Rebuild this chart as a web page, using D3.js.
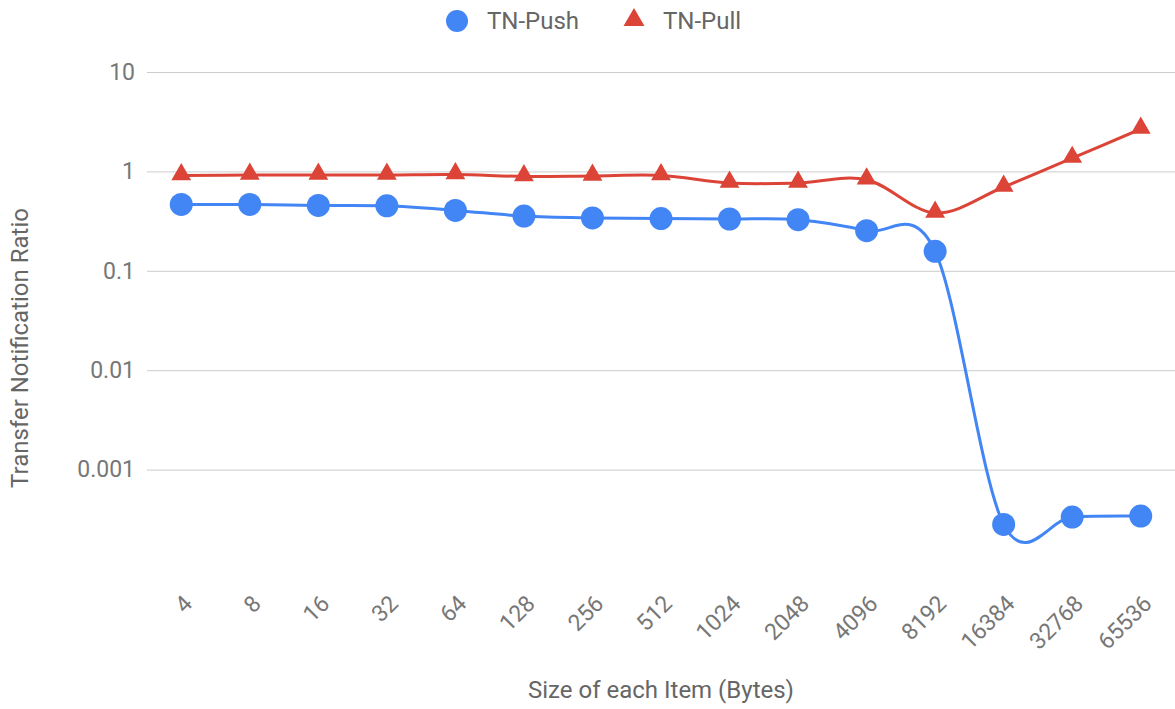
<!DOCTYPE html>
<html>
<head>
<meta charset="utf-8">
<script src="https://cdn.jsdelivr.net/npm/d3@7"></script>
<style>
  html, body { margin: 0; padding: 0; background: #fff; }
  svg { display: block; font-family: Roboto, "Noto Sans", sans-serif; }
</style>
</head>
<body>
<svg id="chart" width="1175" height="709"></svg>
<script>
// Item sizes (bytes) along the x axis
const sizes = ["4", "8", "16", "32", "64", "128", "256", "512", "1024", "2048", "4096", "8192", "16384", "32768", "65536"];
// Transfer notification ratio per item size
const pushValues = [0.465, 0.465, 0.455, 0.45, 0.405, 0.355, 0.34, 0.335, 0.332, 0.327, 0.253, 0.157, 0.000281, 0.000333, 0.000341];
const pullValues = [0.91, 0.92, 0.92, 0.92, 0.93, 0.89, 0.90, 0.91, 0.764, 0.764, 0.825, 0.382, 0.697, 1.36, 2.67];
const yTicks = [10, 1, 0.1, 0.01, 0.001];
const seriesNames = ["TN-Push", "TN-Pull"];

const blue = "#4285F4", red = "#DB4437";
const tickColor = "#777", titleColor = "#666";

const svg = d3.select("#chart");
const plot = { left: 147, right: 1175, top: 72, bottom: 569 };

const x = d3.scalePoint().domain(sizes).range([plot.left, plot.right]).padding(0.5);
const y = d3.scaleLog().domain([0.0001, 10]).range([plot.bottom, plot.top]);

// Horizontal gridlines with labels
const yAxis = d3.axisLeft(y).tickValues(yTicks).tickSize(-(plot.right - plot.left)).tickPadding(12)
  .tickFormat(d => String(d));
const gy = svg.append("g").attr("transform", `translate(${plot.left},0)`).call(yAxis);
gy.select(".domain").remove();
gy.selectAll(".tick line").attr("stroke", "#ccc").attr("stroke-width", 1);
gy.selectAll(".tick text").attr("fill", tickColor).attr("font-size", 23)
  .attr("font-family", "Roboto, sans-serif");

// Category labels, slanted
const xAxis = d3.axisBottom(x).tickSize(0).tickPadding(0);
const gx = svg.append("g").attr("transform", `translate(0,${plot.bottom})`).call(xAxis);
gx.select(".domain").remove();
gx.selectAll(".tick text")
  .attr("fill", tickColor).attr("font-size", 23).attr("font-family", "Roboto, sans-serif")
  .attr("text-anchor", "end").attr("dy", null).attr("y", 0)
  .attr("transform", "translate(12,36) rotate(-45)");

// Series lines
const line = d3.line().x((d, i) => x(sizes[i])).y(d => y(d)).curve(d3.curveCardinal.tension(0));
svg.append("path").datum(pullValues).attr("d", line)
  .attr("fill", "none").attr("stroke", red).attr("stroke-width", 3);
svg.append("path").datum(pushValues).attr("d", line)
  .attr("fill", "none").attr("stroke", blue).attr("stroke-width", 3);

// Markers
const tri = d3.symbol().type(d3.symbolTriangle).size(170);
svg.append("g").selectAll("path").data(pullValues).join("path")
  .attr("d", tri).attr("fill", red)
  .attr("transform", (d, i) => `translate(${x(sizes[i])},${y(d) - 1})`);
svg.append("g").selectAll("circle").data(pushValues).join("circle")
  .attr("cx", (d, i) => x(sizes[i])).attr("cy", d => y(d)).attr("r", 11.5).attr("fill", blue);

// Legend
const legend = svg.append("g");
legend.append("circle").attr("cx", 457).attr("cy", 21).attr("r", 11).attr("fill", blue);
legend.append("text").attr("x", 487).attr("y", 29).text(seriesNames[0])
  .attr("font-size", 24).attr("fill", titleColor);
legend.append("path").attr("d", d3.symbol().type(d3.symbolTriangle).size(190)())
  .attr("transform", "translate(634,20)").attr("fill", red);
legend.append("text").attr("x", 663).attr("y", 29).text(seriesNames[1])
  .attr("font-size", 24).attr("fill", titleColor);

// Axis titles
svg.append("text").attr("x", 661).attr("y", 698).attr("text-anchor", "middle")
  .attr("font-size", 24).attr("fill", titleColor).text("Size of each Item (Bytes)");
svg.append("text").attr("transform", "translate(28,348) rotate(-90)").attr("text-anchor", "middle")
  .attr("font-size", 24).attr("fill", titleColor).text("Transfer Notification Ratio");
</script>
</body>
</html>
